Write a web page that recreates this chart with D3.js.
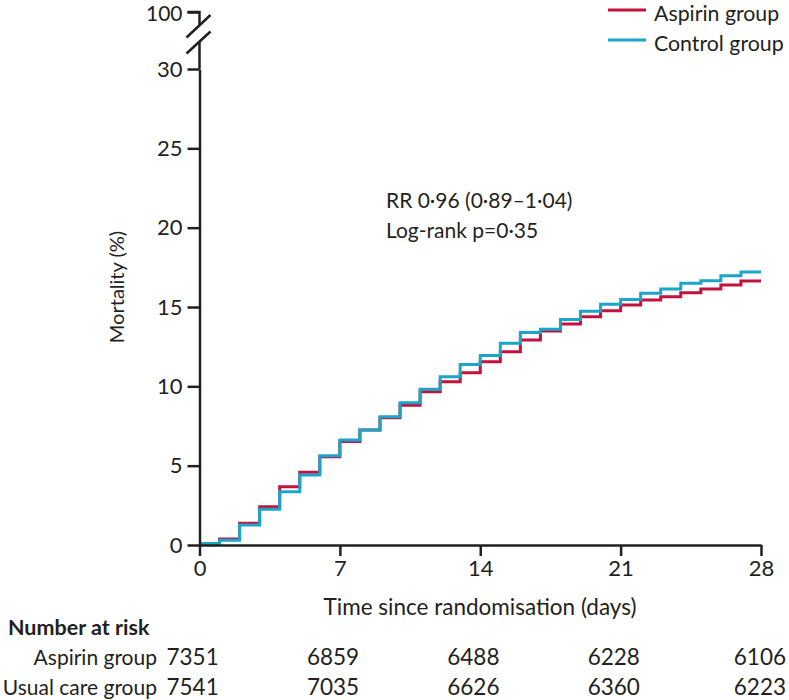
<!DOCTYPE html>
<html>
<head>
<meta charset="utf-8">
<script src="https://cdn.jsdelivr.net/npm/d3@7"></script>
<style>
  body { margin: 0; background: #fff; }
  svg { display: block; }
  text { font-family: Lato, "Open Sans", sans-serif; fill: #231f20; }
</style>
</head>
<body>
<svg id="chart" width="789" height="700"></svg>
<script>
// ---- data ----
const days = [0,1,2,3,4,5,6,7,8,9,10,11,12,13,14,15,16,17,18,19,20,21,22,23,24,25,26,27,28];
const aspirin = [0.10,0.38,1.37,2.41,3.67,4.58,5.56,6.53,7.25,8.02,8.80,9.66,10.29,10.86,11.55,12.18,12.92,13.48,13.93,14.38,14.76,15.12,15.44,15.65,15.90,16.13,16.38,16.64];
const control = [0.10,0.30,1.26,2.25,3.36,4.41,5.62,6.62,7.25,8.08,8.97,9.82,10.60,11.38,11.95,12.71,13.39,13.60,14.22,14.74,15.17,15.48,15.86,16.13,16.49,16.65,16.97,17.20];
const seriesNames = ["Aspirin group", "Control group"];
const xTicks = [0,7,14,21,28];
const yTicks = [0,5,10,15,20,25,30];
const yTopTicks = [100];
const riskDays = [0,7,14,21,28];
const riskGroups = ["Aspirin group", "Usual care group"];
const aspirinRisk = [7351,6859,6488,6228,6106];
const usualRisk = [7541,7035,6626,6360,6223];
const annotation = ["RR 0\u00b796 (0\u00b789\u20131\u00b704)", "Log-rank p=0\u00b735"];
const xTitle = "Time since randomisation (days)";
const yTitle = "Mortality (%)";
const riskTitle = "Number at risk";

// ---- styles ----
const colAsp = "#c4113e", colCtl = "#1aa6cb", ink = "#231f20";

const svg = d3.select("#chart");
const x = d3.scaleLinear().domain([0,28]).range([199.5,761]);
const y = d3.scaleLinear().domain([0,30]).range([545,69]);
const yTop = d3.scaleLinear().domain([99,100]).range([25,12]);

// lines
const line = d3.line().x(d => x(d[0])).y(d => y(d[1])).curve(d3.curveStepAfter);
function pts(vals){ const p = vals.map((v,i)=>[days[i], v]); p.push([days[vals.length], vals[vals.length-1]]); return p; }
svg.append("path").attr("d", line(pts(aspirin))).attr("fill","none").attr("stroke",colAsp).attr("stroke-width",3);
svg.append("path").attr("d", line(pts(control))).attr("fill","none").attr("stroke",colCtl).attr("stroke-width",3);

// axes
function styleAxis(g){
  g.selectAll(".domain").attr("stroke",ink).attr("stroke-width",2.5);
  g.selectAll(".tick line").attr("stroke",ink).attr("stroke-width",2.5);
  g.selectAll(".tick text").attr("font-size",22).attr("fill",ink).style("font-family","Lato, sans-serif");
}
const fmt = d3.format("d");
const xAxis = svg.append("g").attr("transform",`translate(0,${y(0)})`)
  .call(d3.axisBottom(x).tickValues(xTicks).tickFormat(fmt).tickSize(11).tickSizeOuter(0).tickPadding(4));
styleAxis(xAxis);
const yAxis = svg.append("g").attr("transform",`translate(${x(0)},0)`)
  .call(d3.axisLeft(y).tickValues(yTicks).tickFormat(fmt).tickSize(12).tickSizeOuter(0).tickPadding(5));
styleAxis(yAxis);
const yAxisTop = svg.append("g").attr("transform",`translate(${x(0)},0)`)
  .call(d3.axisLeft(yTop).tickValues(yTopTicks).tickFormat(fmt).tickSize(12).tickSizeOuter(0).tickPadding(5));
styleAxis(yAxisTop);
yAxisTop.selectAll(".tick text").attr("font-size",21).attr("dy","0.38em").attr("y",1);
yAxisTop.select(".domain").attr("d", `M-12,${yTop(100)}H0V${yTop(99)}`);
// extend lower axis up to break
svg.append("line").attr("x1",x(0)).attr("x2",x(0)).attr("y1",y(30)).attr("y2",42)
  .attr("stroke",ink).attr("stroke-width",2.5);
// break slashes
const bx = x(0);
svg.append("line").attr("x1",bx-13).attr("y1",37.5).attr("x2",bx+11).attr("y2",15).attr("stroke",ink).attr("stroke-width",2.5);
svg.append("line").attr("x1",bx-13).attr("y1",53.5).attr("x2",bx+11).attr("y2",31.5).attr("stroke",ink).attr("stroke-width",2.5);

// axis titles
svg.append("text").attr("x",480).attr("y",615).attr("text-anchor","middle").attr("font-size",22.5).text(xTitle);
svg.append("text").attr("transform","translate(124,287) rotate(-90)").attr("text-anchor","middle").attr("font-size",20).text(yTitle);

// legend
const legendCols = [colAsp, colCtl];
seriesNames.forEach((n,i)=>{
  const ly = 10 + i*30;
  svg.append("line").attr("x1",608).attr("x2",646).attr("y1",ly).attr("y2",ly).attr("stroke",legendCols[i]).attr("stroke-width",3);
  svg.append("text").attr("x",654).attr("y",ly+10.5).attr("font-size",21.3).text(n);
});

// annotation
annotation.forEach((t,i)=>{
  svg.append("text").attr("x",386).attr("y",208+i*30).attr("font-size",21).text(t);
});

// number at risk
svg.append("text").attr("x",8).attr("y",635).attr("font-size",21.5).attr("font-weight","bold").text(riskTitle);
[aspirinRisk, usualRisk].forEach((row,r)=>{
  const ry = 665 + r*30;
  svg.append("text").attr("x",157).attr("y",ry).attr("text-anchor","end").attr("font-size",21).text(riskGroups[r]);
  row.forEach((v,i)=>{
    const last = i === row.length-1;
    svg.append("text")
      .attr("x", last ? 786 : x(riskDays[i]) - 33)
      .attr("y", ry)
      .attr("text-anchor", last ? "end" : "start")
      .attr("font-size", 22.5).text(v);
  });
});
</script>
</body>
</html>
